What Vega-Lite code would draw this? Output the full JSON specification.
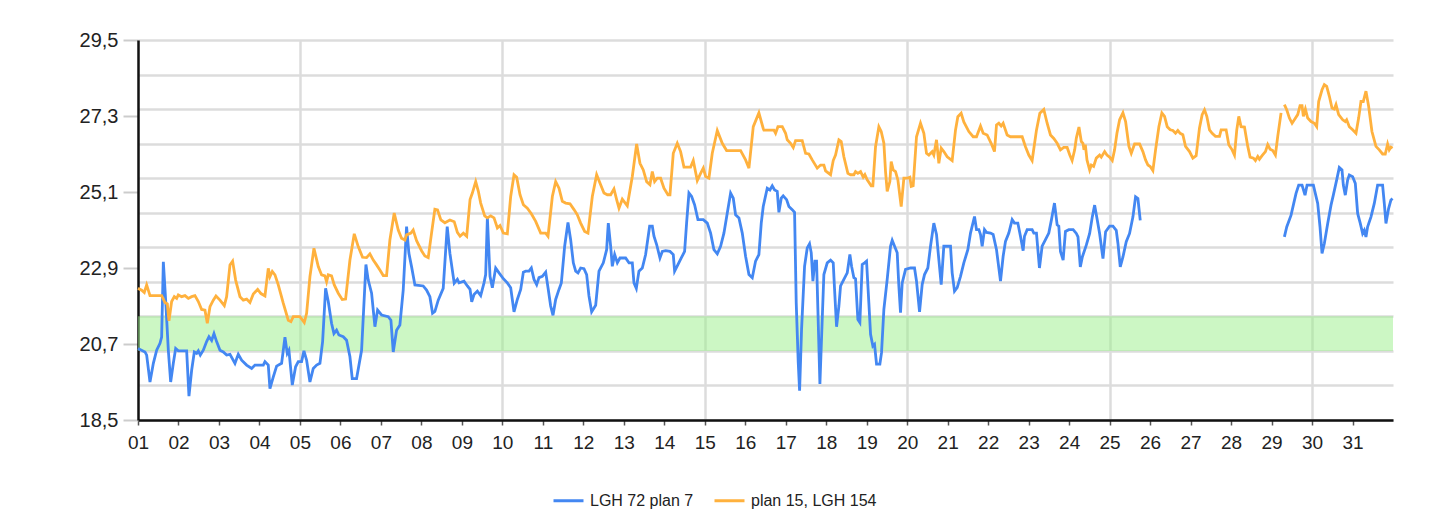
{
  "$schema": "https://vega.github.io/schema/vega-lite/v6.json",
  "autosize": "none",
  "width": 1255,
  "height": 380,
  "padding": {"left": 138, "top": 40, "right": 47, "bottom": 109},
  "background": "white",
  "config": {
    "font": "Liberation Sans",
    "view": {"stroke": null},
    "axis": {"labelFont": "Liberation Sans", "labelColor": "#222222"}
  },
  "datasets": {
    "band": [{"lo": 20.5, "hi": 21.5}],
    "blue": [
      {"d":1.0,"v":20.57},{"d":1.173,"v":20.47},{"d":1.214,"v":20.38},{"d":1.296,"v":19.6},{"d":1.379,"v":20.14},{"d":1.461,"v":20.52},{"d":1.543,"v":20.72},{"d":1.584,"v":20.9},{"d":1.626,"v":23.08},{"d":1.683,"v":21.97},{"d":1.749,"v":20.52},{"d":1.807,"v":19.6},{"d":1.872,"v":20.14},{"d":1.93,"v":20.57},{"d":1.996,"v":20.5},{"d":2.202,"v":20.5},{"d":2.259,"v":19.19},{"d":2.325,"v":19.94},{"d":2.391,"v":20.47},{"d":2.449,"v":20.43},{"d":2.49,"v":20.5},{"d":2.539,"v":20.38},{"d":2.613,"v":20.52},{"d":2.695,"v":20.77},{"d":2.753,"v":20.91},{"d":2.819,"v":20.8},{"d":2.877,"v":21.0},{"d":2.942,"v":20.77},{"d":3.025,"v":20.52},{"d":3.107,"v":20.47},{"d":3.189,"v":20.38},{"d":3.272,"v":20.4},{"d":3.395,"v":20.14},{"d":3.477,"v":20.4},{"d":3.56,"v":20.23},{"d":3.683,"v":20.09},{"d":3.807,"v":19.99},{"d":3.889,"v":20.09},{"d":4.095,"v":20.09},{"d":4.136,"v":20.19},{"d":4.218,"v":20.09},{"d":4.259,"v":19.41},{"d":4.342,"v":19.75},{"d":4.424,"v":20.06},{"d":4.547,"v":20.14},{"d":4.63,"v":20.9},{"d":4.687,"v":20.43},{"d":4.728,"v":20.52},{"d":4.811,"v":19.51},{"d":4.893,"v":20.04},{"d":4.959,"v":20.19},{"d":5.041,"v":20.19},{"d":5.099,"v":20.5},{"d":5.165,"v":20.23},{"d":5.247,"v":19.6},{"d":5.329,"v":19.99},{"d":5.412,"v":20.09},{"d":5.494,"v":20.14},{"d":5.56,"v":20.77},{"d":5.634,"v":22.31},{"d":5.7,"v":21.93},{"d":5.781,"v":21.3},{"d":5.84,"v":21.0},{"d":5.905,"v":21.1},{"d":5.963,"v":20.96},{"d":6.07,"v":20.91},{"d":6.152,"v":20.81},{"d":6.235,"v":20.33},{"d":6.292,"v":19.7},{"d":6.399,"v":19.7},{"d":6.523,"v":20.52},{"d":6.63,"v":23.0},{"d":6.687,"v":22.55},{"d":6.77,"v":22.17},{"d":6.852,"v":21.2},{"d":6.918,"v":21.68},{"d":7.016,"v":21.54},{"d":7.181,"v":21.49},{"d":7.247,"v":21.39},{"d":7.305,"v":20.47},{"d":7.387,"v":21.1},{"d":7.469,"v":21.25},{"d":7.551,"v":22.26},{"d":7.634,"v":24.1},{"d":7.691,"v":23.33},{"d":7.757,"v":22.94},{"d":7.84,"v":22.41},{"d":8.045,"v":22.38},{"d":8.128,"v":22.26},{"d":8.21,"v":22.07},{"d":8.276,"v":21.59},{"d":8.333,"v":21.64},{"d":8.416,"v":21.97},{"d":8.539,"v":22.31},{"d":8.638,"v":24.1},{"d":8.704,"v":23.33},{"d":8.811,"v":22.46},
      {"d":8.889,"v":22.57},{"d":8.93,"v":22.47},{"d":9.053,"v":22.52},{"d":9.136,"v":22.38},{"d":9.202,"v":22.28},{"d":9.243,"v":21.92},{"d":9.3,"v":22.13},{"d":9.383,"v":22.23},{"d":9.465,"v":22.1},{"d":9.547,"v":22.47},{"d":9.588,"v":22.71},{"d":9.63,"v":24.35},{"d":9.695,"v":22.66},{"d":9.753,"v":22.33},{"d":9.835,"v":22.9},{"d":9.918,"v":22.76},{"d":10.025,"v":22.59},{"d":10.123,"v":22.47},{"d":10.206,"v":22.33},{"d":10.288,"v":21.63},{"d":10.37,"v":21.99},{"d":10.453,"v":22.28},{"d":10.519,"v":22.78},{"d":10.576,"v":22.81},{"d":10.658,"v":22.81},{"d":10.716,"v":22.9},{"d":10.782,"v":22.57},{"d":10.848,"v":22.42},{"d":10.905,"v":22.62},{"d":10.988,"v":22.66},{"d":11.07,"v":22.78},{"d":11.128,"v":22.33},{"d":11.193,"v":21.8},{"d":11.251,"v":21.53},{"d":11.317,"v":21.99},{"d":11.399,"v":22.28},{"d":11.457,"v":22.47},{"d":11.539,"v":23.53},{"d":11.621,"v":24.22},{"d":11.687,"v":23.72},{"d":11.753,"v":23.05},{"d":11.811,"v":22.81},{"d":11.868,"v":22.76},{"d":11.934,"v":22.9},{"d":12.016,"v":22.88},{"d":12.082,"v":22.71},{"d":12.14,"v":22.09},{"d":12.206,"v":21.63},{"d":12.305,"v":21.82},{"d":12.387,"v":22.81},{"d":12.494,"v":23.05},{"d":12.576,"v":23.43},{"d":12.617,"v":24.2},{"d":12.675,"v":23.53},{"d":12.716,"v":22.95},{"d":12.774,"v":23.29},{"d":12.84,"v":23.05},{"d":12.905,"v":23.19},{"d":13.045,"v":23.19},{"d":13.128,"v":23.05},{"d":13.21,"v":23.05},{"d":13.251,"v":22.47},{"d":13.309,"v":22.31},{"d":13.374,"v":22.81},{"d":13.457,"v":22.9},{"d":13.539,"v":23.29},{"d":13.638,"v":24.11},{"d":13.704,"v":24.11},{"d":13.745,"v":23.82},{"d":13.811,"v":23.58},{"d":13.893,"v":23.19},{"d":13.951,"v":23.38},{"d":14.033,"v":23.4},{"d":14.14,"v":23.38},{"d":14.222,"v":23.29},{"d":14.255,"v":22.81},{"d":14.337,"v":23.0},{"d":14.42,"v":23.19},{"d":14.502,"v":23.38},{"d":14.551,"v":24.2},{"d":14.609,"v":25.07},{"d":14.675,"v":24.97},{"d":14.749,"v":24.73},{"d":14.831,"v":24.3},{"d":14.963,"v":24.3},{"d":15.062,"v":24.2},{"d":15.144,"v":23.91},{"d":15.226,"v":23.43},{"d":15.309,"v":23.31},{"d":15.391,"v":23.53},{"d":15.473,"v":23.91},{"d":15.556,"v":24.49},{"d":15.638,"v":25.07},{"d":15.704,"v":24.92},{"d":15.761,"v":24.44},{"d":15.844,"v":24.35},{"d":15.926,"v":23.91},{"d":16.008,"v":23.24},{"d":16.091,"v":22.71},{"d":16.173,"v":22.62},{"d":16.255,"v":23.1},{"d":16.337,"v":23.29},{"d":16.395,"v":24.2},{"d":16.444,"v":24.68},
      {"d":16.543,"v":25.21},{"d":16.609,"v":25.16},{"d":16.667,"v":25.28},{"d":16.724,"v":25.16},{"d":16.79,"v":25.12},{"d":16.831,"v":24.51},{"d":16.889,"v":24.92},{"d":16.938,"v":24.99},{"d":17.021,"v":24.88},{"d":17.078,"v":24.68},{"d":17.16,"v":24.59},{"d":17.218,"v":24.51},{"d":17.259,"v":21.89},{"d":17.309,"v":20.16},{"d":17.342,"v":19.35},{"d":17.391,"v":21.13},{"d":17.465,"v":22.95},{"d":17.531,"v":23.48},{"d":17.588,"v":23.6},{"d":17.63,"v":23.34},{"d":17.671,"v":22.52},{"d":17.72,"v":23.1},{"d":17.761,"v":23.1},{"d":17.794,"v":21.7},{"d":17.844,"v":19.54},{"d":17.901,"v":21.41},{"d":17.942,"v":22.71},{"d":18.025,"v":23.05},{"d":18.107,"v":23.13},{"d":18.173,"v":23.05},{"d":18.206,"v":22.28},{"d":18.255,"v":21.2},{"d":18.313,"v":21.8},{"d":18.354,"v":22.38},{"d":18.436,"v":22.57},{"d":18.519,"v":22.76},{"d":18.584,"v":23.29},{"d":18.626,"v":22.95},{"d":18.683,"v":22.62},{"d":18.724,"v":22.59},{"d":18.782,"v":21.41},{"d":18.831,"v":21.32},{"d":18.889,"v":23.0},{"d":18.947,"v":23.05},{"d":18.996,"v":23.1},{"d":19.053,"v":21.89},{"d":19.095,"v":20.98},{"d":19.152,"v":20.64},{"d":19.193,"v":20.69},{"d":19.243,"v":20.12},{"d":19.325,"v":20.12},{"d":19.366,"v":20.45},{"d":19.424,"v":21.7},{"d":19.506,"v":22.57},{"d":19.588,"v":23.53},{"d":19.63,"v":23.7},{"d":19.671,"v":23.58},{"d":19.753,"v":23.34},{"d":19.794,"v":22.38},{"d":19.835,"v":21.61},{"d":19.877,"v":22.47},{"d":19.959,"v":22.86},{"d":20.082,"v":22.9},{"d":20.181,"v":22.9},{"d":20.23,"v":22.52},{"d":20.305,"v":21.63},{"d":20.37,"v":22.42},{"d":20.428,"v":22.71},{"d":20.51,"v":22.9},{"d":20.576,"v":23.53},{"d":20.658,"v":24.2},{"d":20.724,"v":23.87},{"d":20.782,"v":23.14},{"d":20.84,"v":22.42},{"d":20.905,"v":23.53},{"d":21.07,"v":23.53},{"d":21.111,"v":22.76},{"d":21.169,"v":22.23},{"d":21.235,"v":22.33},{"d":21.317,"v":22.66},{"d":21.399,"v":23.05},{"d":21.498,"v":23.43},{"d":21.564,"v":23.91},{"d":21.663,"v":24.39},{"d":21.712,"v":24.01},{"d":21.77,"v":24.01},{"d":21.811,"v":23.87},{"d":21.852,"v":23.53},{"d":21.909,"v":24.01},{"d":21.959,"v":23.93},{"d":22.058,"v":23.91},{"d":22.123,"v":23.87},{"d":22.206,"v":23.43},{"d":22.305,"v":22.52},{"d":22.37,"v":23.24},{"d":22.428,"v":23.67},{"d":22.51,"v":23.91},{"d":22.593,"v":24.3},{"d":22.65,"v":24.2},{"d":22.733,"v":24.2},{"d":22.798,"v":23.82},{"d":22.864,"v":23.4},{"d":22.897,"v":23.82},{"d":22.963,"v":24.01},{"d":23.086,"v":24.01},{"d":23.128,"v":23.91},{"d":23.193,"v":23.91},{"d":23.267,"v":22.9},{"d":23.333,"v":23.53},{"d":23.416,"v":23.72},{"d":23.498,"v":23.91},{"d":23.564,"v":24.3},{"d":23.638,"v":24.78},{"d":23.704,"v":24.15},{"d":23.745,"v":24.11},{"d":23.786,"v":23.38},{"d":23.852,"v":23.13},{"d":23.909,"v":23.96},{"d":23.992,"v":24.01},{"d":24.099,"v":24.01},
      {"d":24.178,"v":23.9},{"d":24.219,"v":23.8},{"d":24.276,"v":22.93},{"d":24.326,"v":23.22},{"d":24.424,"v":23.56},{"d":24.507,"v":23.9},{"d":24.572,"v":24.38},{"d":24.63,"v":24.72},{"d":24.696,"v":24.28},{"d":24.753,"v":23.9},{"d":24.836,"v":23.17},{"d":24.901,"v":23.95},{"d":25.0,"v":24.11},{"d":25.082,"v":24.11},{"d":25.164,"v":23.99},{"d":25.206,"v":23.61},{"d":25.263,"v":22.93},{"d":25.329,"v":23.22},{"d":25.411,"v":23.66},{"d":25.493,"v":23.9},{"d":25.576,"v":24.38},{"d":25.641,"v":24.96},{"d":25.699,"v":24.91},{"d":25.757,"v":24.28},
      {"d":27.5,"v":null},
      {"d":29.317,"v":23.8},{"d":29.375,"v":24.09},{"d":29.482,"v":24.43},{"d":29.548,"v":24.77},{"d":29.605,"v":25.06},{"d":29.671,"v":25.3},{"d":29.753,"v":25.3},{"d":29.827,"v":25.01},{"d":29.877,"v":25.3},{"d":30.033,"v":25.3},{"d":30.14,"v":24.77},{"d":30.197,"v":24.09},{"d":30.247,"v":23.32},{"d":30.304,"v":23.61},{"d":30.387,"v":24.19},{"d":30.469,"v":24.72},{"d":30.526,"v":25.01},{"d":30.609,"v":25.45},{"d":30.674,"v":25.81},{"d":30.74,"v":25.74},{"d":30.773,"v":25.3},{"d":30.822,"v":25.01},{"d":30.88,"v":25.45},{"d":30.921,"v":25.59},{"d":31.003,"v":25.54},{"d":31.069,"v":25.35},{"d":31.127,"v":24.48},{"d":31.192,"v":24.19},{"d":31.25,"v":23.9},{"d":31.291,"v":23.99},{"d":31.332,"v":23.8},{"d":31.373,"v":24.09},{"d":31.456,"v":24.38},{"d":31.538,"v":24.77},{"d":31.62,"v":25.3},{"d":31.743,"v":25.3},{"d":31.785,"v":24.77},{"d":31.826,"v":24.19},{"d":31.891,"v":24.62},{"d":31.949,"v":24.87},{"d":31.99,"v":24.91}
    ],
    "orange": [
      {"d":1.0,"v":22.31},{"d":1.091,"v":22.26},{"d":1.156,"v":22.19},{"d":1.214,"v":22.41},{"d":1.296,"v":22.1},{"d":1.584,"v":22.1},{"d":1.667,"v":21.9},{"d":1.724,"v":21.86},{"d":1.765,"v":21.37},{"d":1.831,"v":21.93},{"d":1.897,"v":22.07},{"d":1.955,"v":22.02},{"d":1.996,"v":22.12},{"d":2.078,"v":22.07},{"d":2.16,"v":22.1},{"d":2.243,"v":22.02},{"d":2.325,"v":22.07},{"d":2.407,"v":22.1},{"d":2.49,"v":21.93},{"d":2.572,"v":21.7},{"d":2.654,"v":21.68},{"d":2.712,"v":21.3},{"d":2.778,"v":21.78},{"d":2.86,"v":21.97},{"d":2.926,"v":22.09},{"d":3.025,"v":21.97},{"d":3.132,"v":21.81},{"d":3.189,"v":22.07},{"d":3.272,"v":22.99},{"d":3.337,"v":23.1},{"d":3.412,"v":22.55},{"d":3.519,"v":22.07},{"d":3.601,"v":21.97},{"d":3.683,"v":22.0},{"d":3.765,"v":21.9},{"d":3.848,"v":22.15},{"d":3.955,"v":22.28},{"d":4.037,"v":22.16},{"d":4.136,"v":22.09},{"d":4.218,"v":22.89},{"d":4.259,"v":22.65},{"d":4.317,"v":22.8},{"d":4.383,"v":22.7},{"d":4.465,"v":22.41},{"d":4.588,"v":21.88},{"d":4.712,"v":21.39},{"d":4.778,"v":21.35},{"d":4.835,"v":21.49},{"d":5.0,"v":21.49},{"d":5.107,"v":21.32},{"d":5.165,"v":21.59},{"d":5.247,"v":22.65},{"d":5.346,"v":23.47},{"d":5.453,"v":22.94},{"d":5.535,"v":22.7},{"d":5.617,"v":22.67},{"d":5.658,"v":22.5},{"d":5.7,"v":22.7},{"d":5.781,"v":22.67},{"d":5.848,"v":22.41},{"d":5.947,"v":22.17},{"d":6.045,"v":21.99},{"d":6.128,"v":22.0},{"d":6.235,"v":23.13},{"d":6.342,"v":23.89},{"d":6.44,"v":23.52},{"d":6.547,"v":23.21},{"d":6.646,"v":23.2},{"d":6.728,"v":23.31},{"d":6.811,"v":23.13},{"d":6.893,"v":22.99},{"d":6.975,"v":22.84},{"d":7.058,"v":22.68},{"d":7.14,"v":22.68},{"d":7.222,"v":23.71},{"d":7.329,"v":24.49},{"d":7.428,"v":24.0},{"d":7.51,"v":23.76},{"d":7.593,"v":23.71},{"d":7.634,"v":23.86},{"d":7.741,"v":23.91},{"d":7.798,"v":24.0},{"d":7.881,"v":23.69},{"d":8.004,"v":23.4},{"d":8.086,"v":23.25},{"d":8.169,"v":23.2},{"d":8.251,"v":23.91},{"d":8.333,"v":24.6},{"d":8.399,"v":24.58},{"d":8.481,"v":24.29},{"d":8.58,"v":24.21},{"d":8.704,"v":24.29},{"d":8.811,"v":24.24},
      {"d":8.889,"v":23.93},{"d":8.955,"v":23.82},{"d":9.037,"v":23.91},{"d":9.119,"v":23.82},{"d":9.202,"v":24.88},{"d":9.259,"v":25.07},{"d":9.342,"v":25.4},{"d":9.407,"v":25.12},{"d":9.465,"v":24.78},{"d":9.564,"v":24.41},{"d":9.63,"v":24.35},{"d":9.712,"v":24.41},{"d":9.794,"v":24.35},{"d":9.877,"v":24.06},{"d":9.942,"v":24.13},{"d":10.025,"v":23.91},{"d":10.123,"v":23.89},{"d":10.206,"v":24.97},{"d":10.288,"v":25.6},{"d":10.354,"v":25.53},{"d":10.436,"v":25.02},{"d":10.519,"v":24.73},{"d":10.617,"v":24.63},{"d":10.716,"v":24.47},{"d":10.823,"v":24.25},{"d":10.947,"v":23.91},{"d":11.07,"v":23.91},{"d":11.128,"v":23.82},{"d":11.235,"v":24.97},{"d":11.317,"v":25.4},{"d":11.399,"v":25.21},{"d":11.481,"v":24.83},{"d":11.564,"v":24.78},{"d":11.671,"v":24.76},{"d":11.77,"v":24.59},{"d":11.852,"v":24.44},{"d":11.934,"v":24.2},{"d":12.033,"v":23.96},{"d":12.115,"v":23.91},{"d":12.222,"v":24.97},{"d":12.329,"v":25.6},{"d":12.428,"v":25.31},{"d":12.51,"v":25.07},{"d":12.593,"v":25.02},{"d":12.675,"v":25.02},{"d":12.757,"v":25.19},{"d":12.823,"v":24.88},{"d":12.881,"v":24.63},{"d":12.963,"v":24.89},{"d":13.086,"v":24.7},{"d":13.21,"v":25.55},{"d":13.317,"v":26.49},{"d":13.399,"v":25.93},{"d":13.481,"v":25.74},{"d":13.564,"v":25.4},{"d":13.646,"v":25.31},{"d":13.704,"v":25.69},{"d":13.761,"v":25.4},{"d":13.827,"v":25.5},{"d":13.909,"v":25.5},{"d":13.992,"v":25.21},{"d":14.091,"v":25.02},{"d":14.14,"v":25.02},{"d":14.222,"v":26.22},{"d":14.321,"v":26.51},{"d":14.403,"v":26.27},{"d":14.486,"v":25.82},{"d":14.65,"v":25.82},{"d":14.716,"v":26.01},{"d":14.815,"v":25.43},{"d":14.897,"v":25.64},{"d":14.963,"v":25.79},{"d":15.021,"v":25.55},{"d":15.103,"v":25.5},{"d":15.185,"v":26.22},{"d":15.309,"v":26.88},{"d":15.432,"v":26.51},{"d":15.539,"v":26.3},{"d":15.885,"v":26.3},{"d":16.008,"v":26.03},{"d":16.091,"v":25.79},{"d":16.198,"v":26.99},{"d":16.337,"v":27.39},{"d":16.444,"v":26.94},
      {"d":16.461,"v":26.89},{"d":16.708,"v":26.89},{"d":16.749,"v":26.8},{"d":16.807,"v":26.99},{"d":16.914,"v":26.99},{"d":16.996,"v":26.8},{"d":17.037,"v":26.61},{"d":17.119,"v":26.51},{"d":17.185,"v":26.39},{"d":17.243,"v":26.59},{"d":17.407,"v":26.59},{"d":17.49,"v":26.22},{"d":17.572,"v":26.2},{"d":17.654,"v":26.03},{"d":17.778,"v":25.79},{"d":17.86,"v":25.88},{"d":17.942,"v":25.88},{"d":17.984,"v":25.71},{"d":18.107,"v":25.6},{"d":18.173,"v":26.01},{"d":18.23,"v":26.17},{"d":18.313,"v":26.61},{"d":18.37,"v":26.56},{"d":18.436,"v":26.12},{"d":18.535,"v":25.64},{"d":18.601,"v":25.6},{"d":18.683,"v":25.6},{"d":18.724,"v":25.69},{"d":18.782,"v":25.64},{"d":18.848,"v":25.69},{"d":18.914,"v":25.53},{"d":18.955,"v":25.6},{"d":19.012,"v":25.45},{"d":19.111,"v":25.28},{"d":19.152,"v":25.28},{"d":19.218,"v":26.41},{"d":19.3,"v":26.99},{"d":19.358,"v":26.85},{"d":19.424,"v":26.51},{"d":19.465,"v":25.69},{"d":19.506,"v":25.12},{"d":19.572,"v":25.4},{"d":19.605,"v":25.98},{"d":19.654,"v":25.74},{"d":19.712,"v":25.69},{"d":19.77,"v":25.45},{"d":19.852,"v":24.68},{"d":19.918,"v":25.5},{"d":20.0,"v":25.5},{"d":20.066,"v":25.53},{"d":20.099,"v":25.26},{"d":20.148,"v":25.28},{"d":20.23,"v":26.7},{"d":20.329,"v":27.09},{"d":20.412,"v":26.8},{"d":20.477,"v":26.22},{"d":20.535,"v":26.17},{"d":20.617,"v":26.27},{"d":20.658,"v":26.17},{"d":20.724,"v":26.61},{"d":20.782,"v":25.93},{"d":20.84,"v":26.37},{"d":20.905,"v":26.27},{"d":20.988,"v":26.12},{"d":21.111,"v":26.01},{"d":21.193,"v":26.89},{"d":21.251,"v":27.28},{"d":21.333,"v":27.38},{"d":21.399,"v":27.13},{"d":21.523,"v":26.85},{"d":21.63,"v":26.7},{"d":21.712,"v":26.7},{"d":21.811,"v":27.01},{"d":21.877,"v":26.8},{"d":21.975,"v":26.75},{"d":22.074,"v":26.51},{"d":22.156,"v":26.27},{"d":22.206,"v":27.04},{"d":22.263,"v":27.09},{"d":22.321,"v":27.01},{"d":22.37,"v":27.09},{"d":22.469,"v":26.75},{"d":22.551,"v":26.7},{"d":22.84,"v":26.7},{"d":22.922,"v":26.41},{"d":23.004,"v":26.17},{"d":23.086,"v":26.01},{"d":23.193,"v":26.89},{"d":23.276,"v":27.38},{"d":23.374,"v":27.49},{"d":23.457,"v":27.09},{"d":23.539,"v":26.75},{"d":23.621,"v":26.65},{"d":23.704,"v":26.51},{"d":23.786,"v":26.32},{"d":23.868,"v":26.39},{"d":23.951,"v":26.39},{"d":24.016,"v":26.17},{"d":24.074,"v":26.01},
      {"d":24.137,"v":26.32},{"d":24.178,"v":26.66},{"d":24.243,"v":26.98},{"d":24.301,"v":26.56},{"d":24.342,"v":26.51},{"d":24.367,"v":26.32},{"d":24.4,"v":26.47},{"d":24.441,"v":26.03},{"d":24.507,"v":25.74},{"d":24.548,"v":25.88},{"d":24.605,"v":25.84},{"d":24.671,"v":26.08},{"d":24.753,"v":26.17},{"d":24.794,"v":26.11},{"d":24.877,"v":26.27},{"d":24.934,"v":26.17},{"d":25.0,"v":26.11},{"d":25.066,"v":26.01},{"d":25.123,"v":26.32},{"d":25.181,"v":26.8},{"d":25.247,"v":27.19},{"d":25.329,"v":27.39},{"d":25.395,"v":27.14},{"d":25.477,"v":26.42},{"d":25.535,"v":26.22},{"d":25.617,"v":26.49},{"d":25.74,"v":26.49},{"d":25.822,"v":26.27},{"d":25.888,"v":26.03},{"d":25.946,"v":25.88},{"d":26.003,"v":25.84},{"d":26.069,"v":25.72},{"d":26.135,"v":26.32},{"d":26.217,"v":26.99},{"d":26.291,"v":27.39},{"d":26.357,"v":27.29},{"d":26.423,"v":26.99},{"d":26.497,"v":26.9},{"d":26.563,"v":26.88},{"d":26.628,"v":26.8},{"d":26.686,"v":26.88},{"d":26.743,"v":26.8},{"d":26.809,"v":26.76},{"d":26.875,"v":26.42},{"d":26.974,"v":26.27},{"d":27.056,"v":26.08},{"d":27.138,"v":26.15},{"d":27.22,"v":26.95},{"d":27.286,"v":27.34},{"d":27.344,"v":27.48},{"d":27.401,"v":27.29},{"d":27.467,"v":26.9},{"d":27.533,"v":26.8},{"d":27.615,"v":26.71},{"d":27.714,"v":26.71},{"d":27.755,"v":26.9},{"d":27.878,"v":26.9},{"d":27.944,"v":26.47},{"d":28.026,"v":26.32},{"d":28.084,"v":26.17},{"d":28.141,"v":26.9},{"d":28.191,"v":27.29},{"d":28.248,"v":26.99},{"d":28.331,"v":26.98},{"d":28.413,"v":26.42},{"d":28.47,"v":26.11},{"d":28.553,"v":26.08},{"d":28.602,"v":26.01},{"d":28.66,"v":26.13},{"d":28.701,"v":26.05},{"d":28.766,"v":26.15},{"d":28.849,"v":26.27},{"d":28.906,"v":26.47},{"d":28.964,"v":26.34},{"d":29.03,"v":26.3},{"d":29.095,"v":26.17},{"d":29.153,"v":26.71},{"d":29.235,"v":27.39},
      {"d":29.28,"v":null},
      {"d":29.317,"v":27.63},{"d":29.375,"v":27.48},{"d":29.441,"v":27.24},{"d":29.507,"v":27.09},{"d":29.564,"v":27.19},{"d":29.646,"v":27.34},{"d":29.704,"v":27.6},{"d":29.753,"v":27.6},{"d":29.786,"v":27.29},{"d":29.836,"v":27.5},{"d":29.893,"v":27.24},{"d":29.975,"v":27.14},{"d":30.058,"v":27.09},{"d":30.115,"v":26.99},{"d":30.164,"v":27.72},{"d":30.247,"v":28.06},{"d":30.304,"v":28.21},{"d":30.362,"v":28.16},{"d":30.428,"v":27.87},{"d":30.493,"v":27.53},{"d":30.551,"v":27.5},{"d":30.592,"v":27.63},{"d":30.658,"v":27.34},{"d":30.757,"v":27.19},{"d":30.822,"v":27.14},{"d":30.855,"v":27.19},{"d":30.921,"v":26.99},{"d":31.003,"v":26.9},{"d":31.086,"v":26.8},{"d":31.151,"v":27.24},{"d":31.209,"v":27.72},{"d":31.266,"v":27.72},{"d":31.332,"v":28.02},{"d":31.398,"v":27.58},{"d":31.48,"v":26.85},{"d":31.579,"v":26.42},{"d":31.661,"v":26.32},{"d":31.743,"v":26.2},{"d":31.809,"v":26.2},{"d":31.867,"v":26.49},{"d":31.908,"v":26.32},{"d":31.949,"v":26.4},{"d":31.99,"v":26.37}
    ]
  },
  "layer": [
    {
      "data": {"name": "band"},
      "mark": {"type": "rect", "fill": "#99ef89", "opacity": 0.5},
      "encoding": {
        "y": {
          "field": "lo", "type": "quantitative",
          "scale": {"domain": [18.5, 29.5], "nice": false, "zero": false},
          "axis": {
            "orient": "left",
            "values": [18.5, 19.5, 20.5, 21.5, 22.5, 23.5, 24.5, 25.5, 26.5, 27.5, 28.5, 29.5],
            "grid": true, "gridColor": "#dcdcdc", "gridWidth": 2.5,
            "labels": false, "ticks": false, "domain": false, "title": null
          }
        },
        "y2": {"field": "hi"}
      }
    },
    {
      "data": {"name": "blue"},
      "mark": {"type": "line", "strokeWidth": 2.8, "invalid": "break-paths-show-domains", "interpolate": "linear"},
      "encoding": {
        "x": {
          "field": "d", "type": "quantitative",
          "scale": {"domain": [1, 32], "nice": false, "zero": false},
          "axis": {
            "orient": "bottom",
            "values": [1,2,3,4,5,6,7,8,9,10,11,12,13,14,15,16,17,18,19,20,21,22,23,24,25,26,27,28,29,30,31],
            "labelExpr": "format(datum.value, '02d')",
            "labelFlush": false, "labelOverlap": false,
            "grid": false, "domain": true, "domainColor": "#111111", "domainWidth": 2.5,
            "ticks": true, "tickColor": "#555555", "tickSize": 5, "tickWidth": 1.5,
            "labelFontSize": 19, "labelPadding": 8, "labelColor": "#222222", "title": null
          }
        },
        "y": {
          "field": "v", "type": "quantitative",
          "axis": {
            "orient": "left",
            "values": [18.5, 20.7, 22.9, 25.1, 27.3, 29.5],
            "labelExpr": "replace(format(datum.value, '.1f'), '.', ',')",
            "labelFlush": false, "labelOverlap": false,
            "grid": false, "domain": true, "domainColor": "#111111", "domainWidth": 2.5,
            "ticks": true, "tickColor": "#cccccc", "tickSize": 15, "tickWidth": 2,
            "labelFontSize": 20, "labelPadding": 5, "labelColor": "#222222", "title": null
          }
        },
        "color": {
          "datum": "LGH 72 plan 7",
          "scale": {"domain": ["LGH 72 plan 7", "plan 15, LGH 154"], "range": ["#4387f2", "#ffb13d"]},
          "legend": {
            "orient": "none", "legendX": 414, "legendY": 444, "direction": "horizontal",
            "title": null, "symbolType": "stroke", "symbolStrokeWidth": 3, "symbolSize": 900,
            "labelFontSize": 16, "labelFont": "Liberation Sans", "labelColor": "#222222", "columnPadding": 14, "labelOffset": 5
          }
        }
      }
    },
    {
      "data": {"name": "orange"},
      "mark": {"type": "line", "strokeWidth": 2.8, "invalid": "break-paths-show-domains", "interpolate": "linear"},
      "encoding": {
        "x": {
          "field": "d", "type": "quantitative",
          "axis": {
            "orient": "bottom",
            "values": [5, 10, 15, 20, 25, 30],
            "grid": true, "gridColor": "#dcdcdc", "gridWidth": 2.5,
            "labels": false, "ticks": false, "domain": false, "title": null
          }
        },
        "y": {"field": "v", "type": "quantitative", "axis": null},
        "color": {"datum": "plan 15, LGH 154"}
      }
    }
  ],
  "resolve": {"axis": {"x": "independent", "y": "independent"}}
}
